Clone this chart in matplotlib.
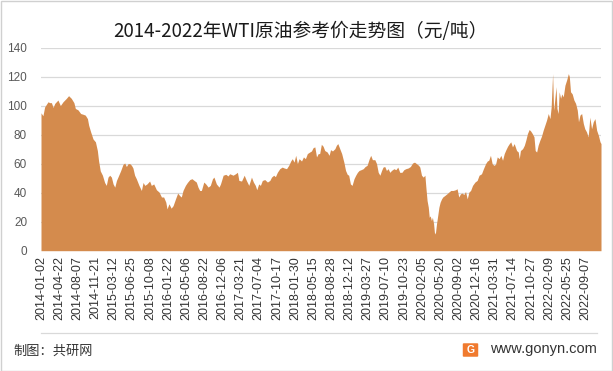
import matplotlib
matplotlib.use("Agg")
import matplotlib.pyplot as plt
from matplotlib.patches import Rectangle, FancyBboxPatch
from matplotlib.lines import Line2D
import numpy as np

plt.rcParams['font.family'] = ['Liberation Sans', 'Noto Sans CJK SC', 'DejaVu Sans']

# trading-day number (0 = 2014-01-02) and WTI price
day = [0, 8, 15, 29, 36, 43, 50, 57, 70, 80, 91, 105, 114, 125, 136, 142, 153, 164, 174, 183,
       192, 197, 205, 215, 225, 233, 238, 245, 254, 263, 270, 277, 284, 291, 298, 305, 312, 318, 329, 339,
       346, 353, 360, 367, 374, 380, 387, 394, 405, 415, 422, 429, 438, 449, 456, 466, 477, 488, 498, 507,
       516, 521, 529, 538, 546, 556, 565, 573, 580, 587, 597, 605, 615, 624, 633, 642, 649, 656, 663, 673,
       681, 691, 700, 709, 715, 725, 736, 742, 753, 764, 773, 780, 786, 794, 804, 812, 818, 829, 840, 849,
       859, 870, 878, 886, 892, 900, 907, 915, 925, 936, 946, 953, 962, 969, 977, 987, 997, 1005, 1015, 1024,
       1033, 1039, 1046, 1053, 1060, 1067, 1077, 1085, 1093, 1101, 1111, 1118, 1125, 1132, 1139, 1146, 1152, 1159, 1166, 1173,
       1183, 1191, 1197, 1205, 1215, 1221, 1227, 1235, 1243, 1252, 1259, 1266, 1272, 1279, 1286, 1294, 1301, 1308, 1315, 1323,
       1332, 1340, 1348, 1357, 1363, 1370, 1380, 1387, 1394, 1401, 1408, 1414, 1421, 1428, 1435, 1442, 1449, 1459, 1467, 1475,
       1483, 1492, 1500, 1508, 1518, 1527, 1536, 1544, 1552, 1561, 1566, 1573, 1580, 1587, 1591, 1596, 1601, 1605, 1609, 1614,
       1618, 1623, 1627, 1631, 1635, 1639, 1645, 1650, 1656, 1661, 1669, 1678, 1686, 1694, 1704, 1714, 1720, 1727, 1734, 1741,
       1748, 1755, 1762, 1769, 1776, 1784, 1794, 1803, 1811, 1821, 1829, 1838, 1845, 1851, 1858, 1865, 1872, 1879, 1886, 1894,
       1901, 1908, 1915, 1922, 1929, 1936, 1942, 1949, 1956, 1966, 1973, 1977, 1982, 1991, 1998, 2004, 2011, 2018, 2024, 2031,
       2038, 2043, 2049, 2055, 2062, 2069, 2076, 2083, 2090, 2097, 2104, 2109, 2115, 2119, 2123, 2129, 2133, 2138, 2142, 2148,
       2153, 2159, 2166, 2173, 2180, 2184, 2189, 2196, 2203, 2210, 2217, 2222, 2228, 2235, 2242, 2248, 2255, 2262, 2269, 2276,
       2283, 2290, 2297, 2304, 2311, 2315]
price = [95, 93, 99, 102.6, 102, 102, 98.7, 101.5, 103.8, 100, 102.6, 105, 106.8, 105, 102, 98, 97, 94.5, 94, 93.4,
         91, 86.5, 82, 77, 75, 69, 62, 55, 52, 47, 45, 50.7, 52, 50.7, 46, 43.8, 48.4, 50.7, 55, 59.5,
         60.4, 58, 60, 60, 58.8, 57, 52, 49.6, 45, 41.5, 47, 45, 46, 48, 45, 46, 42, 40.4, 37, 37,
         33.4, 28.8, 32.3, 29.3, 31, 35.7, 39.7, 38, 37, 41.5, 45, 47, 49, 49.6, 48.4, 47.3, 43.8, 41.5, 41.5, 47.3,
         46, 43.8, 45, 49.6, 50.7, 46, 43.8, 46, 52, 52.6, 51.5, 53, 52.6, 52, 53, 54, 48.4, 48, 52, 48.4,
         45, 50.7, 47.3, 45, 42, 46, 45, 48.4, 49, 47.3, 48.4, 50.7, 52, 51, 54, 56.5, 57.6, 57, 56.5, 58.8,
         62, 63.4, 61, 65.7, 60, 63.4, 61.8, 64.6, 63.4, 66.9, 68, 68.7, 71, 71.5, 64.6, 66.9, 66.9, 73.3, 72, 69,
         68, 65.7, 69.6, 68.7, 70.3, 72.6, 73.8, 70.3, 66.9, 61, 55.3, 52.6, 52, 46, 45, 49.6, 52, 54, 55.3, 55.8,
         56.5, 58, 58.8, 63.4, 65.7, 62.7, 62.7, 60, 54, 52, 55.3, 57.6, 58, 55.3, 56.5, 54, 55.3, 56.5, 55.8, 57.6,
         54, 54, 55.8, 56.5, 57, 58, 60.4, 61, 60, 58.8, 57.6, 52, 50.7, 52, 43.8, 34.6, 30, 23, 24, 20.8,
         23, 18.5, 11.5, 12.7, 18.5, 23, 30, 33.4, 35.7, 37, 38, 39.2, 40.4, 41.5, 41.5, 42, 42.7, 37, 39.2, 39.7,
         38.7, 40.8, 35.7, 40.4, 41.5, 45, 47.3, 48.4, 52, 53, 56.5, 60, 61.8, 62.3, 65.7, 60, 58.8, 59.5, 64.6, 63.4,
         65.7, 62.3, 66.9, 69.6, 72, 73.8, 75, 71.5, 73.8, 69, 68, 63.4, 69, 70.3, 72.6, 76, 80.7, 83.5, 82.5, 80.7,
         78.4, 69, 68, 72.6, 76, 78.9, 83, 86.5, 90, 94.5, 91, 99, 122, 96.8, 102.6, 113, 98, 94.5, 109.5, 105,
         108, 106, 114, 117.6, 122, 120, 109.5, 108, 103.8, 101.5, 96.8, 88.8, 93.4, 94.5, 87.6, 84, 81.9, 78.4, 92, 84,
         88.8, 91, 83, 79.6, 75, 73.8]

n_days = 2316
label_step = 75
tick_labels = ['2014-01-02', '2014-04-22', '2014-08-07', '2014-11-21', '2015-03-12', '2015-06-25',
               '2015-10-08', '2016-01-22', '2016-05-06', '2016-08-22', '2016-12-06', '2017-03-21',
               '2017-07-04', '2017-10-17', '2018-01-30', '2018-05-15', '2018-08-28', '2018-12-12',
               '2019-03-27', '2019-07-10', '2019-10-23', '2020-02-05', '2020-05-20', '2020-09-02',
               '2020-12-16', '2021-03-31', '2021-07-14', '2021-10-27', '2022-02-09', '2022-05-25',
               '2022-09-07']

fig = plt.figure(figsize=(6.13, 3.71), dpi=100)
ax = fig.add_axes([41 / 613, 1 - 250.7 / 371, 560 / 613, 203.2 / 371])

ax.fill_between(day, price, 0, color='#D48B4D', linewidth=0)

ax.set_xlim(0, n_days - 1)
ax.set_ylim(0, 140)
ax.set_yticks(np.arange(0, 141, 20))
ax.set_xticks(np.arange(len(tick_labels)) * label_step)
ax.set_xticklabels(tick_labels, rotation=90, fontsize=9, color='#333333')
ax.tick_params(axis='x', length=0, pad=4)
ax.tick_params(axis='y', length=0, pad=10, labelsize=8.5, labelcolor='#595959')
for lab in ax.get_yticklabels():
    lab.set_horizontalalignment('right')
ax.grid(axis='y', color='#D9D9D9', linewidth=0.9)
ax.set_axisbelow(True)
for s in ax.spines.values():
    s.set_visible(False)

fig.text(0.49, 1 - 31 / 371, '2014-2022年WTI原油参考价走势图（元/吨）', ha='center', va='center',
         fontsize=13.5, color='#1a1a1a', family=['Noto Sans CJK SC', 'DejaVu Sans'])

# footer
fig.add_artist(Line2D([41 / 613, 597 / 613], [1 - 333 / 371] * 2, color='#D9D9D9', lw=0.9))
fig.text(13 / 613, 1 - 351 / 371, '制图：共研网', ha='left', va='center', fontsize=9.5,
         color='#333333', family=['Noto Sans CJK SC', 'DejaVu Sans'])
fig.add_artist(FancyBboxPatch((464 / 613, 1 - 356 / 371), 13 / 613, 12 / 371,
                              boxstyle='round,pad=0.002', transform=fig.transFigure,
                              facecolor='#F07A2E', edgecolor='none'))
fig.text(470.5 / 613, 1 - 350 / 371, 'G', ha='center', va='center', fontsize=7.5,
         color='white', weight='bold')
fig.text(597 / 613, 1 - 349 / 371, 'www.gonyn.com', ha='right', va='center', fontsize=10.5,
         color='#333333')

fig.add_artist(Rectangle((0.5 / 613, 0.5 / 371), 611.5 / 613, 369.5 / 371, transform=fig.transFigure,
                         fill=False, edgecolor='#D0D0D0', lw=1))

fig.savefig('out.png', dpi=100)
